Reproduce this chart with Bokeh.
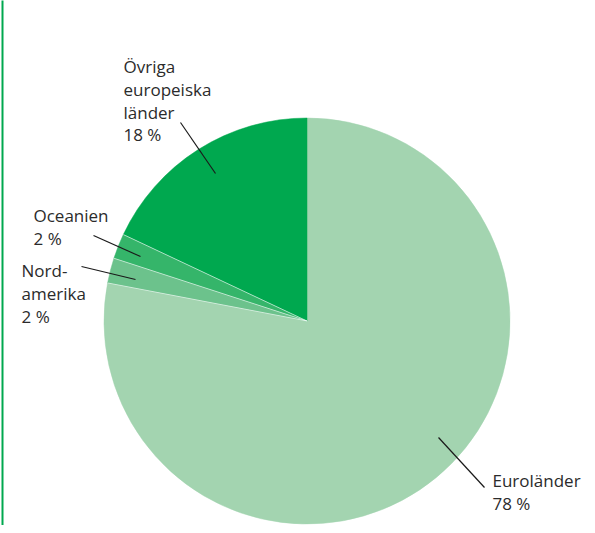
import math
from bokeh.plotting import figure
from bokeh.models import Range1d, ColumnDataSource
from bokeh.core.properties import value
from bokeh.embed import file_html
from bokeh.resources import INLINE

# data
categories = ["Euroländer", "Nord-\namerika", "Oceanien", "Övriga\neuropeiska\nländer"]
shares = [78, 2, 2, 18]
colors = ["#a3d4b0", "#6cc28c", "#35b56a", "#00a84f"]

W, H = 587, 525
p = figure(width=W, height=H, output_backend="svg", toolbar_location=None,
           x_range=Range1d(0, W), y_range=Range1d(0, H), min_border=0)
p.axis.visible = False
p.grid.visible = False
p.outline_line_color = None
p.background_fill_color = "white"
p.border_fill_color = "white"

def Y(py):
    # picture y -> data y
    return H - py

cx, cy, r = 306.5, Y(320.5), 203
total = sum(shares)
starts, ends = [], []
acc = 0.0
for s in shares:
    starts.append(90 - acc / total * 360)
    acc += s
    ends.append(90 - acc / total * 360)

src = ColumnDataSource(dict(start=starts, end=ends, color=colors))
p.wedge(x=cx, y=cy, radius=r, radius_units="screen", start_angle="start", end_angle="end",
        start_angle_units="deg", end_angle_units="deg", direction="clock",
        fill_color="color", line_color="color", line_width=0.5, source=src)

# thin light separators between the small slices
sep = ends[:-1]
p.segment(x0=[cx] * len(sep), y0=[cy] * len(sep),
          x1=[cx + r * math.cos(math.radians(a)) for a in sep],
          y1=[cy + r * math.sin(math.radians(a)) for a in sep],
          line_color="white", line_width=0.8, line_alpha=0.8)

# labels, one text line at a time
label_x = [492, 21, 33, 123]
label_first = [480, 270, 215, 66]   # centre of first line (picture y)
LH = 22.8
tx, ty, tt = [], [], []
for c, s, x0, y0 in zip(categories, shares, label_x, label_first):
    lines = c.split("\n") + [f"{s} %"]
    for i, ln in enumerate(lines):
        tx.append(x0)
        ty.append(Y(y0 + i * LH))
        tt.append(ln)
p.text(x=tx, y=ty, text=tt, text_font=value("Open Sans"),
       text_font_size="17px", text_color="#2b2b2b", text_baseline="middle", text_align="left")

# leader lines
lx0 = [484, 81, 93, 180]
ly0 = [487, 266, 235, 122]
lx1 = [438, 135, 140, 215]
ly1 = [437, 279, 256, 173]
p.segment(x0=lx0, y0=[Y(v) for v in ly0], x1=lx1, y1=[Y(v) for v in ly1],
          line_color="#1a1a1a", line_width=1.2)

# left frame line
p.segment(x0=[2], y0=[-5], x1=[2], y1=[H + 5], line_color="#00a84f", line_width=2)

open("out.html", "w").write(file_html(p, INLINE))
